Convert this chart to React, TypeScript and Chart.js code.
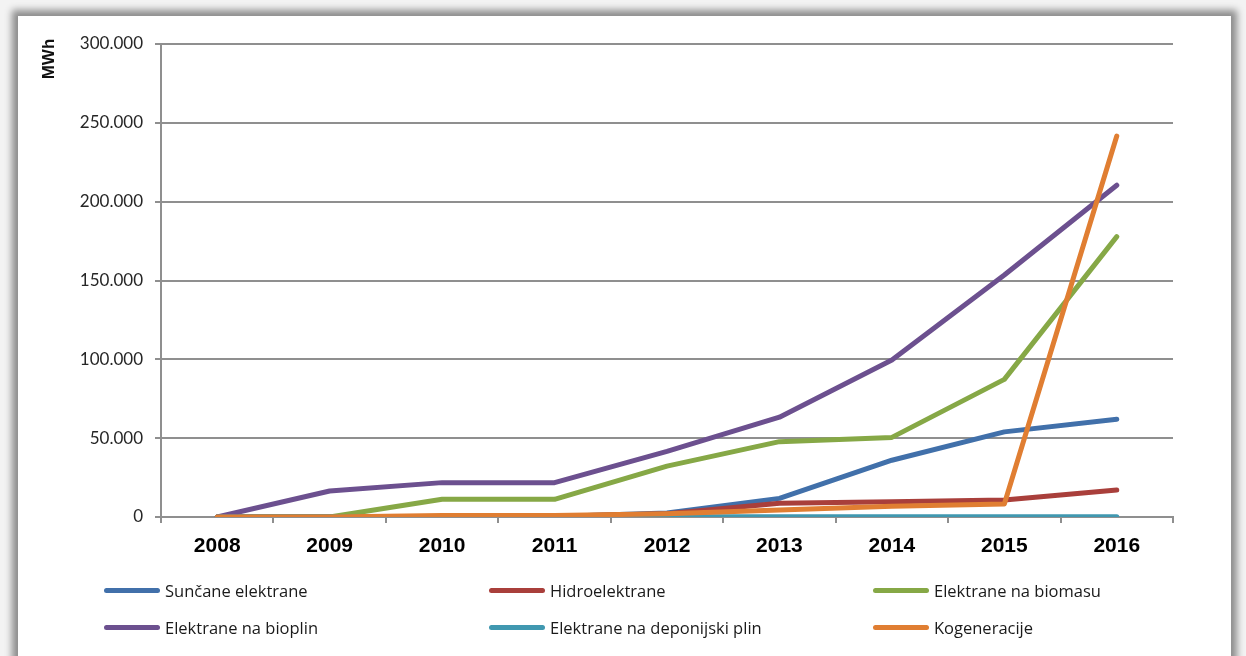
import React, { useEffect, useRef } from "react";
import { Chart, registerables } from "chart.js";

Chart.register(...registerables);

const years = ["2008", "2009", "2010", "2011", "2012", "2013", "2014", "2015", "2016"];
const seriesNames = [
  "Sunčane elektrane",
  "Hidroelektrane",
  "Elektrane na biomasu",
  "Elektrane na bioplin",
  "Elektrane na deponijski plin",
  "Kogeneracije",
];
const suncane = [0, 0, 0, 300, 2500, 11800, 36000, 54000, 62000];
const hidro = [0, 0, 300, 500, 2000, 8700, 9600, 10800, 17100];
const biomasa = [0, 0, 11200, 11200, 32300, 47800, 50500, 87300, 177800];
const bioplin = [0, 16500, 21800, 21800, 41600, 63300, 99600, 153500, 210400];
const deponijski = [0, 0, 0, 0, 100, 150, 200, 200, 200];
const kogeneracije = [0, 0, 900, 1000, 2000, 4500, 6800, 8200, 241600];
const seriesColors = ["#4170AA", "#A93F3B", "#86A846", "#6C508F", "#4098B0", "#E07E32"];
const yMax = 300000;
const yStep = 50000;
const yTitle = "MWh";

const FONT = "Lato, 'Open Sans', 'DejaVu Sans', sans-serif";
const LEGEND_FONT = "'Open Sans', Lato, 'DejaVu Sans', sans-serif";
const BOLD_FONT = "'Liberation Sans', Arial, sans-serif";

const fmt = (v: number) => {
  if (v === 0) return "0";
  const s = String(Math.round(v));
  return s.replace(/\B(?=(\d{3})+(?!\d))/g, ".");
};

const titlePlugin = {
  id: "mwhTitle",
  afterDraw(chart: any) {
    const ctx = chart.ctx;
    ctx.save();
    ctx.translate(49, 59);
    ctx.rotate(-Math.PI / 2);
    ctx.font = `bold 17px ${BOLD_FONT}`;
    ctx.fillStyle = "#111";
    ctx.textAlign = "center";
    ctx.textBaseline = "middle";
    ctx.fillText(yTitle, 0, 0);
    ctx.restore();
  },
};

export default function App() {
  const ref = useRef<HTMLCanvasElement>(null);

  useEffect(() => {
    const all = [suncane, hidro, biomasa, bioplin, deponijski, kogeneracije];
    const chart = new Chart(ref.current as HTMLCanvasElement, {
      type: "line",
      data: {
        labels: years,
        datasets: all.map((d, i) => ({
          label: seriesNames[i],
          data: d,
          borderColor: seriesColors[i],
          backgroundColor: seriesColors[i],
          borderWidth: 5,
          pointRadius: 0,
          pointHoverRadius: 0,
          borderCapStyle: "round" as const,
          borderJoinStyle: "round" as const,
          tension: 0,
          fill: false,
          order: all.length - i,
        })),
      },
      options: {
        responsive: false,
        animation: false,
        events: [],
        layout: { padding: { left: 0, top: 44, right: 73, bottom: 89 } },
        plugins: { legend: { display: false }, tooltip: { enabled: false } },
        scales: {
          x: {
            offset: true,
            grid: {
              display: true,
              offset: true,
              drawOnChartArea: false,
              drawTicks: true,
              tickLength: 6,
              color: "#8f8f8f",
              lineWidth: 2,
            },
            border: { color: "#8f8f8f", width: 2 },
            ticks: {
              font: { family: BOLD_FONT, size: 21, weight: "bold" },
              color: "#000",
              padding: 11,
              maxRotation: 0,
              autoSkip: false,
            },
            afterFit: (s: any) => {
              s.height = 50;
            },
          },
          y: {
            min: 0,
            max: yMax,
            ticks: {
              stepSize: yStep,
              callback: (v: any) => fmt(Number(v)),
              font: { family: FONT, size: 17 },
              color: "#262626",
              padding: 12,
            },
            grid: { color: "#8f8f8f", lineWidth: 2, tickLength: 6 },
            border: { color: "#8f8f8f", width: 2 },
            afterFit: (s: any) => {
              s.width = 161;
            },
          },
        },
      },
      plugins: [titlePlugin],
    });
    return () => chart.destroy();
  }, []);

  const colX = [104, 489, 873];
  const rowY = [590, 627];

  return (
    <div
      style={{
        position: "absolute",
        left: 0,
        top: 0,
        width: 1246,
        height: 656,
        overflow: "hidden",
        background: "#f3f3f3",
      }}
    >
      <div
        style={{
          position: "absolute",
          left: 18,
          top: 16,
          width: 1213,
          height: 720,
          background: "#fff",
          boxShadow: "0 0 7px 6px rgba(0,0,0,0.42)",
        }}
      />
      <canvas
        ref={ref}
        width={1246}
        height={656}
        style={{ position: "absolute", left: 0, top: 0, width: 1246, height: 656, display: "block" }}
      />
      {seriesNames.map((name, i) => {
        const x = colX[i % 3];
        const y = rowY[Math.floor(i / 3)];
        return (
          <div
            key={name}
            style={{
              position: "absolute",
              left: x,
              top: y - 12,
              height: 24,
              display: "flex",
              alignItems: "center",
              whiteSpace: "nowrap",
              fontFamily: LEGEND_FONT,
              fontSize: 16.5,
              color: "#1a1a1a",
            }}
          >
            <span
              style={{
                display: "inline-block",
                width: 56,
                height: 5,
                borderRadius: 3,
                background: seriesColors[i],
                marginRight: 5,
              }}
            />
            <span>{name}</span>
          </div>
        );
      })}
    </div>
  );
}
